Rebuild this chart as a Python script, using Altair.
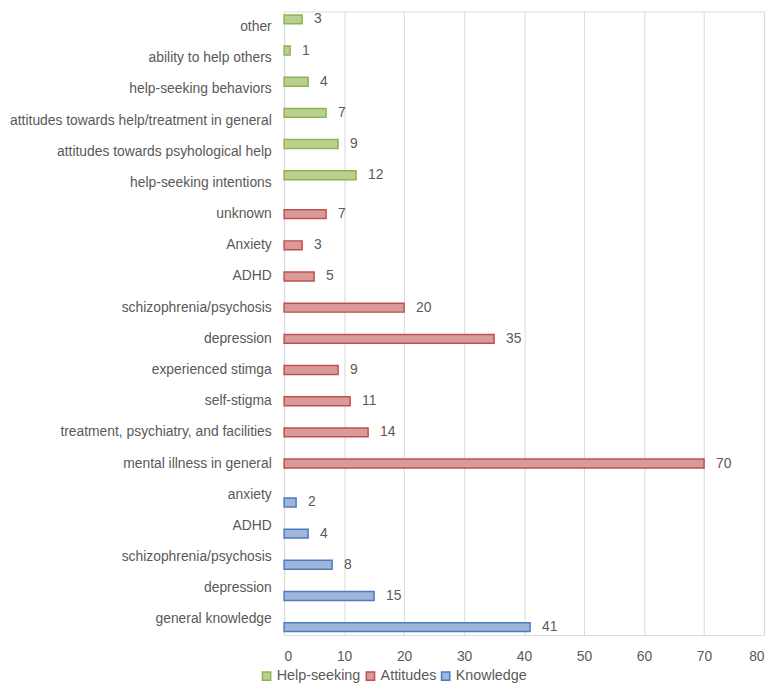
import altair as alt
import pandas as pd

categories = [
    "other", "ability to help others", "help-seeking behaviors",
    "attitudes towards help/treatment in general", "attitudes towards psyhological help",
    "help-seeking intentions",
    "unknown", "Anxiety", "ADHD", "schizophrenia/psychosis", "depression",
    "experienced stimga", "self-stigma", "treatment, psychiatry, and facilities",
    "mental illness in general",
    "anxiety", "ADHD", "schizophrenia/psychosis", "depression", "general knowledge",
]
series = ["Help-seeking"] * 6 + ["Attitudes"] * 9 + ["Knowledge"] * 5
values = [3, 1, 4, 7, 9, 12, 7, 3, 5, 20, 35, 9, 11, 14, 70, 2, 4, 8, 15, 41]

series_order = ["Help-seeking", "Attitudes", "Knowledge"]
fills = ["#b9d18f", "#d99a99", "#9fb6da"]
strokes = ["#8fb353", "#c0504d", "#4a7cc0"]

ids = [f"{i:02d}" for i in range(len(categories))]
df = pd.DataFrame({"id": ids, "label": categories, "series": series, "value": values})

label_map = "{" + ",".join(f"'{i}': '{c}'" for i, c in zip(ids, categories)) + "}"

FONT = "Liberation Sans"
GREY = "#595959"

y_enc = alt.Y(
    "id:N",
    sort=ids,
    scale=alt.Scale(paddingInner=0, paddingOuter=0),
    axis=alt.Axis(
        title=None, domain=False, ticks=False, labelPadding=13,
        labelExpr=f"{label_map}[datum.value]", labelFontSize=14,
        labelColor=GREY, labelFont=FONT, labelLimit=400,
    ),
)
yoff = alt.YOffset(
    "series:N",
    scale=alt.Scale(domain=series_order, range=[4, 27.5], paddingInner=0, paddingOuter=0),
)

bars = alt.Chart(df).mark_bar(size=9, strokeWidth=1.5).encode(
    y=y_enc,
    yOffset=yoff,
    x=alt.X(
        "value:Q",
        scale=alt.Scale(domain=[0, 80]),
        axis=alt.Axis(
            title=None, values=list(range(0, 81, 10)), domain=False, ticks=False,
            grid=True, gridColor="#d9d9d9", gridWidth=1, labelFontSize=14,
            labelColor=GREY, labelFont=FONT, labelPadding=15,
        ),
    ),
    fill=alt.Fill(
        "series:N",
        scale=alt.Scale(domain=series_order, range=fills),
        legend=alt.Legend(title=None),
    ),
    stroke=alt.Stroke(
        "series:N",
        scale=alt.Scale(domain=series_order, range=strokes),
        legend=alt.Legend(title=None),
    ),
)

texts = alt.Chart(df).mark_text(
    align="left", baseline="middle", dx=12, fontSize=14, color=GREY, font=FONT
).encode(
    y=alt.Y("id:N", sort=ids),
    yOffset=alt.YOffset("series:N"),
    x=alt.X("value:Q"),
    text=alt.Text("value:Q"),
)

chart = alt.layer(bars, texts).properties(
    width=485,
    height=630,
    autosize=alt.AutoSizeParams(type="none"),
    padding={"left": 279, "top": 0, "right": 6, "bottom": 51},
).configure_view(stroke=None).configure(background="white").configure_legend(
    orient="none", direction="horizontal", legendX=-25, legendY=664,
    symbolType="square", symbolSize=70, symbolStrokeWidth=1.5,
    labelFontSize=14.5, labelColor=GREY, labelFont=FONT,
    columnPadding=2, labelOffset=3,
)

chart.save("out.html", embed_options={"renderer": "svg", "actions": False})
